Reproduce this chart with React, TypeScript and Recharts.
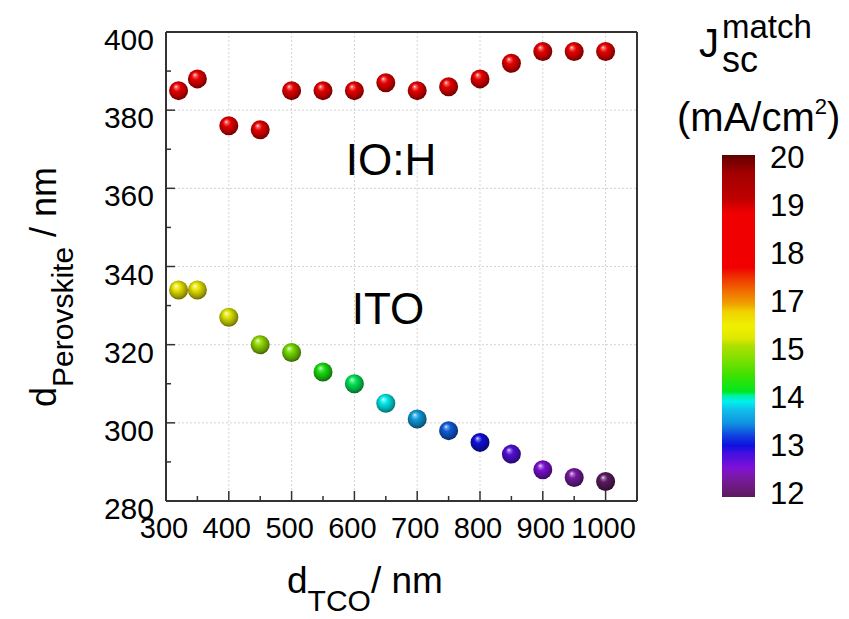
import React from 'react';
import {
  ScatterChart,
  Scatter,
  XAxis,
  YAxis,
  CartesianGrid,
  ReferenceLine,
  Customized,
} from 'recharts';

// ---------- data ----------
const tcoThickness = [320, 350, 400, 450, 500, 550, 600, 650, 700, 750, 800, 850, 900, 950, 1000];
const iohPerovskite = [385, 388, 376, 375, 385, 385, 385, 387, 385, 386, 388, 392, 395, 395, 395];
const iohJsc = [18.2, 18.3, 17.9, 17.9, 18.2, 18.2, 18.2, 18.3, 18.2, 18.3, 18.4, 18.5, 18.6, 18.6, 18.6];
const itoPerovskite = [334, 334, 327, 320, 318, 313, 310, 305, 301, 298, 295, 292, 288, 286, 285];
const itoJsc = [16.1, 16.1, 15.6, 15.0, 14.8, 14.3, 14.12, 13.95, 13.6, 13.35, 13.05, 12.8, 12.6, 12.4, 12.05];

const xTickValues = [300, 350, 400, 450, 500, 550, 600, 650, 700, 750, 800, 850, 900, 950, 1000];
const xLabelValues = [300, 400, 500, 600, 700, 800, 900, 1000];
const yTickValues = [280, 290, 300, 310, 320, 330, 340, 350, 360, 370, 380, 390, 400];
const yLabelValues = [280, 300, 320, 340, 360, 380, 400];
const xGridValues = [400, 500, 600, 700, 800, 900, 1000];
const yGridValues = [300, 320, 340, 360, 380];
const colorbarLabels = [20, 19, 18, 17, 15, 14, 13, 12];

const jscColorStops: [number, string][] = [
  [12.0, '#5a1a5a'],
  [12.2, '#6e1a80'],
  [12.42, '#7a1aa8'],
  [12.6, '#8010d8'],
  [12.9, '#4010e0'],
  [13.05, '#1010e0'],
  [13.25, '#1040e0'],
  [13.5, '#1090e0'],
  [13.79, '#10c0e8'],
  [13.95, '#00f0f0'],
  [14.08, '#00f0a0'],
  [14.15, '#00e820'],
  [14.5, '#40e000'],
  [14.83, '#80e000'],
  [15.2, '#b0e000'],
  [15.5, '#e0e800'],
  [16.0, '#f0f000'],
  [16.6, '#f0d000'],
  [16.9, '#f0a000'],
  [17.2, '#f07000'],
  [17.5, '#f03000'],
  [17.7, '#f00000'],
  [18.8, '#f00000'],
  [19.1, '#c00000'],
  [19.65, '#a00000'],
  [20.0, '#600000'],
];

// ---------- helpers ----------
const FONT = '"Liberation Sans", Arial, Helvetica, sans-serif';

function hexToRgb(h: string): number[] {
  const s = h.replace('#', '');
  return [0, 2, 4].map((i) => parseInt(s.slice(i, i + 2), 16));
}
function rgbToHex(c: number[]): string {
  return '#' + c.map((v) => Math.max(0, Math.min(255, Math.round(v))).toString(16).padStart(2, '0')).join('');
}
function mix(a: string, b: string, t: number): string {
  const ca = hexToRgb(a);
  const cb = hexToRgb(b);
  return rgbToHex(ca.map((v, i) => v + (cb[i] - v) * t));
}
function jscColor(v: number): string {
  const s = jscColorStops;
  if (v <= s[0][0]) return s[0][1];
  for (let i = 1; i < s.length; i++) {
    if (v <= s[i][0]) {
      const t = (v - s[i - 1][0]) / (s[i][0] - s[i - 1][0]);
      return mix(s[i - 1][1], s[i][1], t);
    }
  }
  return s[s.length - 1][1];
}
const cbAsc = [...colorbarLabels].sort((a, b) => a - b);
function jscFraction(v: number): number {
  const n = cbAsc.length - 1;
  if (v <= cbAsc[0]) return 0;
  for (let i = 1; i < cbAsc.length; i++) {
    if (v <= cbAsc[i]) {
      return (i - 1 + (v - cbAsc[i - 1]) / (cbAsc[i] - cbAsc[i - 1])) / n;
    }
  }
  return 1;
}

const iohData = tcoThickness.map((x, i) => ({ x, y: iohPerovskite[i], jsc: iohJsc[i], set: 'ioh' }));
const itoData = tcoThickness.map((x, i) => ({ x, y: itoPerovskite[i], jsc: itoJsc[i], set: 'ito' }));

// ---------- marks ----------
const Sphere = (props: any) => {
  const { cx, cy, payload } = props;
  if (cx == null || cy == null) return null;
  const color = jscColor(payload.jsc);
  const id = `sph-${payload.set}-${payload.x}`;
  return (
    <g>
      <defs>
        <radialGradient id={id} cx="48%" cy="45%" r="58%" fx="36%" fy="28%">
          <stop offset="0%" stopColor={mix(color, '#ffffff', 0.9)} />
          <stop offset="13%" stopColor={mix(color, '#ffffff', 0.4)} />
          <stop offset="36%" stopColor={mix(color, '#000000', 0.05)} />
          <stop offset="78%" stopColor={mix(color, '#000000', 0.35)} />
          <stop offset="100%" stopColor={mix(color, '#000000', 0.6)} />
        </radialGradient>
      </defs>
      <circle cx={cx} cy={cy} r={9.5} fill={`url(#${id})`} />
    </g>
  );
};

const XTick = (props: any) => {
  const { x, y, payload } = props;
  const major = xLabelValues.includes(payload.value);
  return (
    <g>
      <line x1={x} x2={x} y1={y} y2={y - (major ? 10 : 5)} stroke="#333" strokeWidth={1.5} />
      {major && (
        <text x={x - 2} y={y + 37} textAnchor="middle" fontSize={29} fontFamily={FONT} fill="#000">
          {payload.value}
        </text>
      )}
    </g>
  );
};

const YTick = (props: any) => {
  const { x, y, payload } = props;
  const major = yLabelValues.includes(payload.value);
  return (
    <g>
      <line x1={x} x2={x + (major ? 9 : 5)} y1={y} y2={y} stroke="#333" strokeWidth={1.5} />
      {major && (
        <text x={x - 12} y={y + 18} textAnchor="end" fontSize={30} fontFamily={FONT} fill="#000">
          {payload.value}
        </text>
      )}
    </g>
  );
};

const Decorations = () => {
  const top = 155;
  const bottom = 497;
  const left = 722;
  const width = 33;
  return (
    <g fontFamily={FONT} fill="#000">
      <defs>
        <linearGradient id="cbar" x1="0" y1="1" x2="0" y2="0">
          {jscColorStops.map(([v, c], i) => (
            <stop key={i} offset={`${jscFraction(v) * 100}%`} stopColor={c} />
          ))}
        </linearGradient>
      </defs>
      <rect x={left} y={top} width={width} height={bottom - top} fill="url(#cbar)" />
      {colorbarLabels.map((v) => (
        <text key={v} x={770} y={493 - jscFraction(v) * 336 + 11} fontSize={31}>
          {v}
        </text>
      ))}
      {/* colorbar title */}
      <text x={699} y={57} fontSize={40}>J</text>
      <text x={722} y={38} fontSize={33}>match</text>
      <text x={722} y={72} fontSize={36}>sc</text>
      <text x={677} y={131} fontSize={40}>
        (mA/cm<tspan dy={-17} fontSize={22}>2</tspan>
        <tspan dy={17}>)</tspan>
      </text>
      {/* annotations */}
      <text x={391} y={175} fontSize={44} textAnchor="middle">IO:H</text>
      <text x={388} y={324} fontSize={44} textAnchor="middle">ITO</text>
      {/* axis titles */}
      <text x={287} y={593} fontSize={37}>
        d<tspan fontSize={30} dy={18}>TCO</tspan>
        <tspan dy={-18}>/ nm</tspan>
      </text>
      <text transform="translate(56, 407) rotate(-90)" fontSize={36}>
        d<tspan fontSize={30} dy={17}>Perovskite</tspan>
        <tspan dy={-17}> / nm</tspan>
      </text>
    </g>
  );
};

export default function App() {
  return (
    <div style={{ position: 'absolute', left: 0, top: 0, width: 849, height: 619, background: '#ffffff' }}>
      <ScatterChart width={849} height={619} margin={{ top: 32, right: 212, bottom: 0, left: 0 }}>
        <CartesianGrid
          verticalValues={xGridValues}
          horizontalValues={yGridValues}
          stroke="#d4d4d4"
          strokeDasharray="2 2"
        />
        <XAxis
          type="number"
          dataKey="x"
          domain={[300, 1050]}
          ticks={xTickValues}
          interval={0}
          allowDataOverflow
          height={118}
          tickSize={0}
          tickMargin={0}
          tickLine={false}
          tick={<XTick />}
          axisLine={{ stroke: '#333', strokeWidth: 2 }}
        />
        <YAxis
          type="number"
          dataKey="y"
          domain={[280, 400]}
          ticks={yTickValues}
          interval={0}
          allowDataOverflow
          width={166}
          tickSize={0}
          tickMargin={0}
          tickLine={false}
          tick={<YTick />}
          axisLine={{ stroke: '#333', strokeWidth: 2 }}
        />
        <ReferenceLine y={400} stroke="#333" strokeWidth={2} />
        <ReferenceLine x={1050} stroke="#333" strokeWidth={2} />
        <Scatter data={iohData} shape={<Sphere />} isAnimationActive={false} />
        <Scatter data={itoData} shape={<Sphere />} isAnimationActive={false} />
        <Customized component={<Decorations />} />
      </ScatterChart>
    </div>
  );
}
